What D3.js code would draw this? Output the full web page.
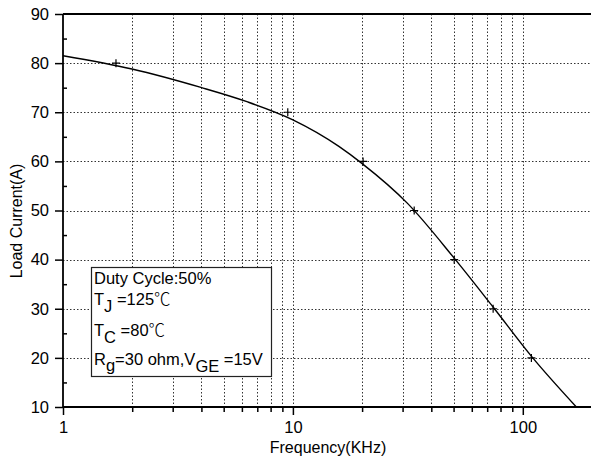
<!DOCTYPE html>
<html>
<head>
<meta charset="utf-8">
<script src="https://cdn.jsdelivr.net/npm/d3@7"></script>
<style>
  body { margin: 0; background: #fff; }
  text { font-family: Arial, "Liberation Sans", sans-serif; fill: #000; }
</style>
</head>
<body>
<script>
// fitted curve (frequency in KHz, current in A)
var curveFreq = [1, 1.995, 3.98, 6.31, 10, 15.85, 19.95, 31.6, 50.1, 74.1, 109.6, 171];
var curveAmps = [81.5, 78.8, 75.05, 72.15, 68.45, 63.05, 59.6, 51.4, 40.4, 30.4, 20.2, 10];

// measured points (the + marks)
var markFreq = [1.7, 9.5, 20.2, 33.7, 50.3, 74.3, 109];
var markAmps = [80, 70, 60, 50, 40, 30, 20];

var xMajor = [1, 10, 100];
var xMinor = [2, 3, 4, 5, 6, 7, 8, 9, 20, 30, 40, 50, 60, 70, 80, 90];
var yMajor = [10, 20, 30, 40, 50, 60, 70, 80, 90];
var yMinor = [15, 25, 35, 45, 55, 65, 75, 85];

var svgWidth = 591;
var svgHeight = 462;

var svg = d3.select("body")
  .append("svg")
  .attr("width", svgWidth)
  .attr("height", svgHeight);

var x = d3.scaleLog().domain([1, 200]).range([63, 592]);
var y = d3.scaleLinear().domain([10, 90]).range([407, 14]);

// grid
var grid = svg.append("g")
  .attr("stroke", "#333")
  .attr("stroke-width", 1)
  .attr("stroke-dasharray", "1.5,2");

grid.selectAll("line.vx")
  .data(xMinor.concat([10, 100]))
  .enter().append("line")
  .attr("x1", d => Math.round(x(d)) + 0.5)
  .attr("x2", d => Math.round(x(d)) + 0.5)
  .attr("y1", y(90))
  .attr("y2", y(10));

grid.selectAll("line.hy")
  .data(yMajor.filter(d => d > 10 && d < 90))
  .enter().append("line")
  .attr("x1", x(1))
  .attr("x2", svgWidth)
  .attr("y1", d => Math.round(y(d)) + 0.5)
  .attr("y2", d => Math.round(y(d)) + 0.5);

// legend box (white, covers grid)
var box = svg.append("g");
box.append("rect")
  .attr("x", 91.5).attr("y", 267.5)
  .attr("width", 180).attr("height", 109)
  .attr("fill", "#fff")
  .attr("stroke", "#222")
  .attr("stroke-width", 1.2);

var deg = "℃";
var fs = 16.5;
box.append("text").attr("x", 94).attr("y", 283.5).attr("font-size", fs)
  .text("Duty Cycle:50%");

var l2 = box.append("text").attr("x", 94).attr("y", 305).attr("font-size", fs);
l2.append("tspan").text("T");
l2.append("tspan").attr("dy", 7).text("J");
l2.append("tspan").attr("dy", -7).text(" =125");
l2.append("tspan").attr("font-family", "'Noto Sans CJK SC', serif").attr("font-weight", 300).text(deg);

var l3 = box.append("text").attr("x", 94).attr("y", 336).attr("font-size", fs);
l3.append("tspan").text("T");
l3.append("tspan").attr("dy", 7).text("C");
l3.append("tspan").attr("dy", -7).text(" =80");
l3.append("tspan").attr("font-family", "'Noto Sans CJK SC', serif").attr("font-weight", 300).text(deg);

var l4 = box.append("text").attr("x", 94).attr("y", 365).attr("font-size", fs);
l4.append("tspan").text("R");
l4.append("tspan").attr("dy", 6).text("g");
l4.append("tspan").attr("dy", -6).text("=30 ohm,V");
l4.append("tspan").attr("dy", 7).text("GE");
l4.append("tspan").attr("dy", -7).text(" =15V");

// axes
var xAxis = svg.append("g")
  .attr("transform", `translate(0, ${y(10)})`)
  .call(d3.axisBottom(x).tickValues(xMajor).tickFormat(d3.format("d")).tickSize(8).tickPadding(6));

var xAxisMinor = svg.append("g")
  .attr("transform", `translate(0, ${y(10)})`)
  .call(d3.axisBottom(x).tickValues(xMinor).tickFormat("").tickSize(5));

var yAxis = svg.append("g")
  .attr("transform", `translate(${x(1)}, 0)`)
  .call(d3.axisLeft(y).tickValues(yMajor).tickSize(8).tickPadding(6));

var yAxisMinor = svg.append("g")
  .attr("transform", `translate(${x(1)}, 0)`)
  .call(d3.axisRight(y).tickValues(yMinor).tickFormat("").tickSize(4));

[xAxis, xAxisMinor, yAxis, yAxisMinor].forEach(g => {
  g.select(".domain").remove();
  g.selectAll("line").attr("stroke", "#000").attr("stroke-width", 1.5);
  g.selectAll("text").attr("font-size", 16.5).attr("font-family", "Arial, 'Liberation Sans', sans-serif");
});

// frame lines
var frame = svg.append("g").attr("stroke", "#000").attr("stroke-width", 1.8);
frame.append("line").attr("x1", x(1)).attr("x2", svgWidth).attr("y1", y(90)).attr("y2", y(90));
frame.append("line").attr("x1", x(1)).attr("x2", svgWidth).attr("y1", y(10)).attr("y2", y(10));
frame.append("line").attr("x1", x(1)).attr("x2", x(1)).attr("y1", y(90)).attr("y2", y(10));

// curve
var curveData = curveFreq.map((f, i) => ({ f: f, a: curveAmps[i] }));
var line = d3.line()
  .x(d => x(d.f))
  .y(d => y(d.a))
  .curve(d3.curveMonotoneX);

svg.append("path")
  .datum(curveData)
  .attr("fill", "none")
  .attr("stroke", "#000")
  .attr("stroke-width", 1.4)
  .attr("d", line);

// + markers
svg.selectAll("path.mark")
  .data(markFreq.map((f, i) => ({ f: f, a: markAmps[i] })))
  .enter().append("path")
  .attr("class", "mark")
  .attr("transform", d => `translate(${x(d.f)}, ${y(d.a)})`)
  .attr("d", "M-4,0H4M0,-4V4")
  .attr("stroke", "#000")
  .attr("stroke-width", 1.2);

// axis titles
svg.append("text")
  .attr("x", 328).attr("y", 453)
  .attr("text-anchor", "middle")
  .attr("font-size", 16)
  .text("Frequency(KHz)");

svg.append("text")
  .attr("transform", "translate(22, 221) rotate(-90)")
  .attr("text-anchor", "middle")
  .attr("font-size", 16)
  .text("Load Current(A)");
</script>
</body>
</html>
